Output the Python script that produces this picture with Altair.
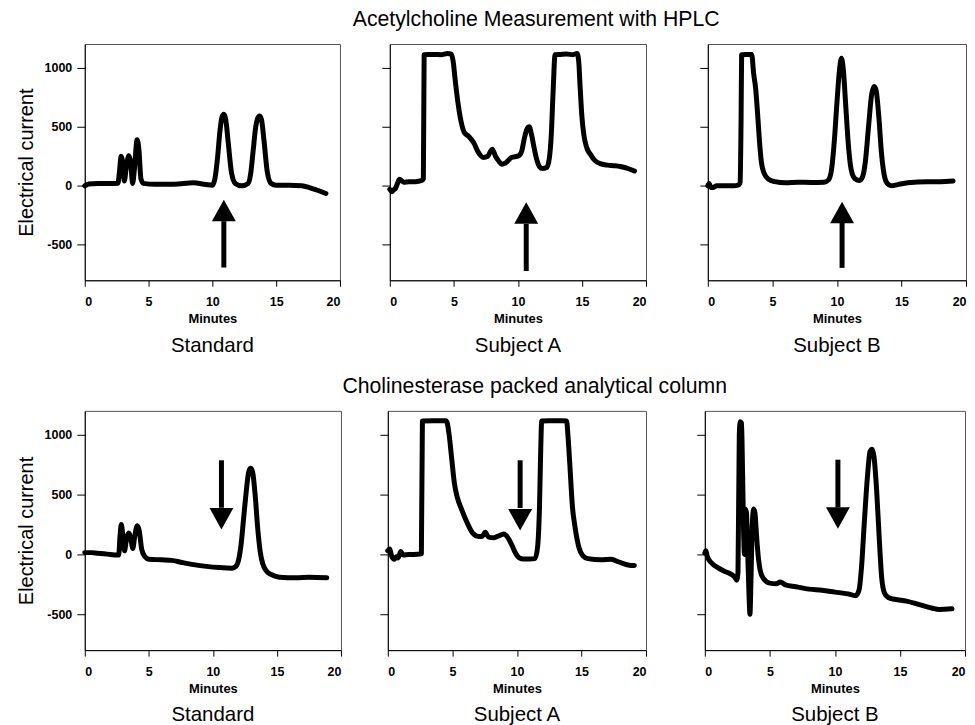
import altair as alt
import pandas as pd

# ---------------- data (minutes, electrical current) ----------------
# Row 1: Acetylcholine Measurement with HPLC
std1_t = [0.0, 0.3, 1.0, 2.0, 2.6, 2.72, 2.85, 2.98, 3.1, 3.25, 3.45, 3.6, 3.75, 3.9, 4.1, 4.25, 4.4, 4.6,
          5.5, 7.0, 8.5, 9.5, 10.0, 10.2, 10.4, 10.6, 10.75, 10.9, 11.05, 11.25, 11.5, 11.8, 12.3, 12.8,
          13.0, 13.2, 13.4, 13.55, 13.7, 13.85, 14.05, 14.3, 14.6, 15.0, 16.0, 17.0, 17.6, 18.3, 18.9]
std1_v = [0, 15, 20, 20, 22, 120, 250, 200, 40, 150, 255, 200, 20, 150, 390, 300, 60, 20,
          12, 12, 25, 10, 5, 60, 230, 470, 580, 605, 560, 360, 110, 20, 0, 20,
          100, 300, 500, 570, 590, 560, 380, 120, 20, 5, 5, 0, -15, -40, -65]

subA1_t = [0.0, 0.15, 0.3, 0.45, 0.6, 0.75, 0.9, 1.1, 1.5, 2.0, 2.5, 2.62, 2.68, 3.0, 3.5, 4.0, 4.5, 4.8,
           4.95, 5.1, 5.35, 5.58, 5.82, 6.15, 6.55, 6.9, 7.3, 7.65, 7.85, 8.0, 8.25, 8.5, 8.75, 9.0, 9.5,
           10.05, 10.3, 10.5, 10.7, 10.88, 11.05, 11.25, 11.45, 11.7, 11.9, 12.25, 12.45, 12.6, 12.75,
           12.9, 13.3, 13.8, 14.3, 14.62, 14.75, 14.85, 15.0, 15.15, 15.35, 15.7, 16.0, 16.5, 17.0,
           17.5, 18.0, 18.5, 19.1]
subA1_v = [-30, -50, -35, -20, 20, 55, 45, 30, 35, 35, 45, 60, 1110, 1112, 1112, 1110, 1120, 1115,
           1050, 900, 680, 535, 450, 420, 365, 285, 240, 250, 290, 310, 250, 210, 183, 190, 240,
           253, 295, 400, 478, 500, 440, 330, 230, 160, 146, 155, 230, 420, 800,
           1110, 1112, 1115, 1110, 1120, 1050, 850, 580, 430, 330, 260, 215, 185, 175,
           170, 163, 150, 125]

subB1_t = [0.0, 0.1, 0.25, 0.4, 0.7, 1.5, 2.0, 2.35, 2.5, 2.58, 2.62, 3.0, 3.4, 3.55, 3.7, 3.85, 4.0, 4.15,
           4.35, 4.7, 5.2, 6.0, 7.0, 8.0, 9.0, 9.35, 9.6, 9.8, 10.0, 10.2, 10.35, 10.5, 10.7, 10.9, 11.1,
           11.4, 11.75, 12.0, 12.2, 12.45, 12.7, 12.9, 13.05, 13.25, 13.45, 13.65, 13.9, 14.2, 14.7,
           15.5, 17.0, 18.0, 19.0]
subB1_v = [0, 20, -15, -15, 0, 0, 0, 5, 30, 600, 1110, 1112, 1112, 950, 830, 620, 380, 200,
           110, 55, 35, 25, 30, 28, 30, 50, 150, 380, 700, 980, 1080, 980, 650, 330, 140,
           60, 45, 80, 200, 500, 780, 840, 800, 580, 280, 100, 20, 0, 10,
           25, 35, 35, 40]

# Row 2: Cholinesterase packed analytical column
std2_t = [0.0, 0.5, 1.0, 1.5, 2.0, 2.5, 2.65, 2.75, 2.85, 2.95, 3.1, 3.25, 3.45, 3.6, 3.75, 3.9, 4.1, 4.25,
          4.45, 4.7, 5.0, 6.0, 6.8, 7.5, 8.5, 9.5, 10.5, 11.5, 11.8, 12.0, 12.2, 12.4, 12.6, 12.8, 12.95,
          13.1, 13.3, 13.5, 13.7, 13.9, 14.2, 14.6, 15.2, 16.5, 17.5, 18.9]
std2_v = [15, 15, 10, 5, 0, -5, -5, 150, 250, 180, 30, 120, 180, 130, 50, 150, 240, 200,
          40, -20, -40, -45, -50, -65, -85, -100, -110, -115, -100, -50, 80, 300, 520, 690, 720,
          690, 500, 220, 20, -80, -140, -170, -190, -195, -190, -195]

subA2_t = [0.0, 0.15, 0.3, 0.5, 0.65, 0.8, 1.0, 1.2, 1.6, 2.0, 2.6, 2.68, 3.5, 4.5, 4.6, 4.75, 4.95, 5.15,
           5.4, 5.7, 6.0, 6.3, 6.6, 7.0, 7.3, 7.55, 7.8, 8.2, 8.7, 9.0, 9.3, 9.6, 9.9, 10.2, 10.5, 11.0,
           11.4, 11.6, 11.75, 11.85, 11.92, 12.5, 13.5, 13.85, 13.95, 14.1, 14.3, 14.5, 14.8, 15.1,
           15.5, 16.5, 17.3, 17.7, 18.2, 18.7, 19.1]
subA2_v = [30, 45, -15, -40, -20, -30, 25, -5, 0, 0, 5, 1115, 1118, 1118, 1100, 1000, 800, 600,
           470, 380, 300, 230, 175, 150, 150, 185, 145, 140, 160, 170, 140, 80, 10, -30, -38, -38,
           -35, 60, 400, 900, 1115, 1118, 1118, 1115, 1000, 750, 400, 230, 60, -10,
           -35, -45, -40, -55, -75, -90, -92]

subB2_t = [0.0, 0.08, 0.2, 0.5, 1.0, 1.5, 2.0, 2.3, 2.45, 2.55, 2.65, 2.72, 2.82, 2.9, 2.98, 3.05, 3.1,
           3.2, 3.3, 3.4, 3.47, 3.55, 3.65, 3.75, 3.85, 3.95, 4.05, 4.25, 4.5, 5.0, 5.5, 5.8, 6.2, 7.0,
           8.0, 9.0, 10.0, 11.0, 11.6, 11.85, 12.05, 12.25, 12.5, 12.7, 12.85, 13.0, 13.2, 13.4, 13.6,
           13.8, 14.1, 14.6, 15.5, 16.5, 17.5, 18.0, 19.0]
subB2_v = [10, 30, -20, -70, -110, -140, -165, -190, -215, -150, 1000, 1110, 1100, 700, 200, 0, 380,
           350, 0, -350, -500, -200, 250, 380, 350, 200, 50, -130, -200, -240, -245, -230, -255, -270,
           -290, -300, -315, -330, -345, -300, -100, 250, 650, 860, 880, 820, 550, 150, -200,
           -320, -360, -375, -390, -420, -450, -460, -455]

# Arrows: x position, tail, head base, tip (data units)
arrow_x = [10.9, 10.65, 10.4, 10.67, 10.25, 10.23]
arrow_tail = [-692, -722, -695, 787, 787, 792]
arrow_base = [-300, -323, -309, 390, 388, 393]
arrow_tip = [-118, -140, -135, 209, 200, 215]

row_titles = ["Acetylcholine Measurement with HPLC", "Cholinesterase packed analytical column"]
panel_names = ["Standard", "Subject A", "Subject B"]
x_ticks = [0, 5, 10, 15, 20]
y_ticks = [-500, 0, 500, 1000]

FONT = "Liberation Sans"

UP = "M0,0L1,1.8L-1,1.8Z"
DOWN = "M0,0L1,-1.8L-1,-1.8Z"


def panel(ts, vs, i, width, height, show_y):
    df = pd.DataFrame({"t": ts, "v": vs})
    adf = pd.DataFrame({"t": [arrow_x[i]], "v": [arrow_tail[i]], "v2": [arrow_base[i]]})
    hdf = pd.DataFrame({"t": [arrow_x[i]], "v": [arrow_tip[i]]})
    xsc = alt.Scale(domain=[0, 20], nice=False, zero=False)
    ysc = alt.Scale(domain=[-800, 1200], nice=False, zero=False)
    xax = alt.Axis(values=x_ticks, title="Minutes", grid=False)
    if show_y:
        yax = alt.Axis(values=y_ticks, title="Electrical current", grid=False,
                       labelExpr="'' + datum.value")
    else:
        yax = alt.Axis(values=y_ticks, title=None, labels=False, grid=False)
    X = alt.X("t:Q", scale=xsc, axis=xax)
    Y = alt.Y("v:Q", scale=ysc, axis=yax)
    line = alt.Chart(df).mark_line(color="black", strokeWidth=5, interpolate="monotone",
                                   strokeJoin="round", strokeCap="round").encode(x=X, y=Y)
    shaft = alt.Chart(adf).mark_rule(color="black", strokeWidth=5).encode(x=X, y=Y, y2="v2:Q")
    head = alt.Chart(hdf).mark_point(shape=UP if i < 3 else DOWN, size=576, filled=True,
                                     color="black", opacity=1, strokeWidth=0).encode(x=X, y=Y)
    return alt.layer(line, shaft, head).properties(
        width=width, height=height,
        title=alt.TitleParams(panel_names[i % 3], orient="bottom", anchor="middle",
                              font=FONT, fontSize=20.5, fontWeight="normal", offset=10, color="black"))


series = [(std1_t, std1_v), (subA1_t, subA1_v), (subB1_t, subB1_v),
          (std2_t, std2_v), (subA2_t, subA2_v), (subB2_t, subB2_v)]
widths = [256, 257, 259, 257, 259, 261]
heights = [237, 237, 237, 240, 240, 240]
panels = [panel(series[i][0], series[i][1], i, widths[i], heights[i], i % 3 == 0) for i in range(6)]

row1 = alt.hconcat(alt.hconcat(panels[0], panels[1], spacing=40), panels[2], spacing=52,
                   title=alt.TitleParams(row_titles[0], anchor="middle", font=FONT, fontSize=21.3,
                                         fontWeight="normal", offset=13, dx=45, color="black"))
row2 = alt.hconcat(alt.hconcat(panels[3], panels[4], spacing=37), panels[5], spacing=49,
                   title=alt.TitleParams(row_titles[1], anchor="middle", font=FONT, fontSize=21.3,
                                         fontWeight="normal", offset=13, dx=44, color="black"))

chart = alt.vconcat(row1, row2, spacing=19).properties(
    padding={"left": 7, "top": 0, "right": 0, "bottom": 0}
).configure_view(stroke="#555", strokeWidth=1).configure_axis(
    domainColor="black", domainWidth=1, tickColor="black", tickWidth=1,
    labelFont=FONT, labelFontWeight="bold", labelFontSize=12.5, labelColor="black",
).configure_axisX(
    tickSize=6, labelPadding=9, titleFont=FONT, titleFontWeight="bold", titleFontSize=13,
    titlePadding=5, titleColor="black",
).configure_axisY(
    tickSize=8, labelPadding=5, titleFont=FONT, titleFontWeight="normal", titleFontSize=20,
    titlePadding=8, titleColor="black",
)

chart.save("out.html", embed_options={"renderer": "svg", "actions": False})
